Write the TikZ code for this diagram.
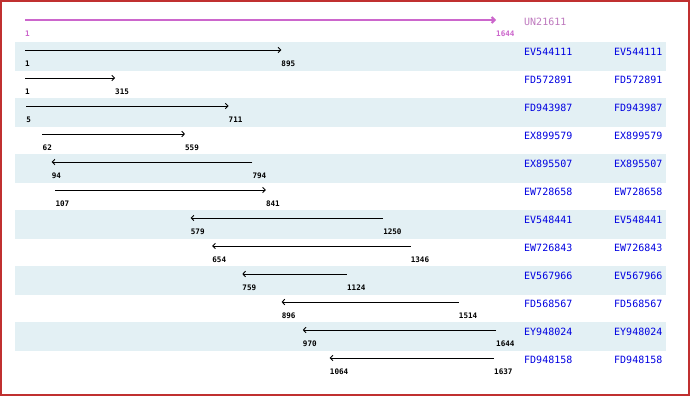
\documentclass[tikz,border=0pt]{standalone}
\usepackage{fontspec}
\newfontfamily\mono{DejaVu Sans Mono}
\usetikzlibrary{arrows.meta}
\definecolor{frame}{RGB}{192,48,48}
\definecolor{rowbg}{RGB}{227,240,244}
\definecolor{acc}{RGB}{0,0,225}
\definecolor{mag}{RGB}{204,102,204}
\definecolor{magt}{RGB}{190,120,190}
\tikzset{
  nametext/.style={anchor=west,inner sep=0pt,font=\mono\fontsize{10}{10}\selectfont,text=acc},
  numtext/.style={anchor=west,inner sep=0pt,font=\mono\fontsize{7.6}{8}\selectfont\bfseries},
  hit/.style={line width=0.9pt,-{Straight Barb[length=2.6pt,width=5.5pt]}},
  headhit/.style={line width=2pt,mag,-{Straight Barb[length=3pt,width=6pt]}},
}
\begin{document}
\begin{tikzpicture}[x=1pt,y=-1pt]
\useasboundingbox (0,0) rectangle (690,396);
\fill[white] (0,0) rectangle (690,396);
% shaded rows
\foreach \i in {1,3,5,7,9,11}{
  \pgfmathsetmacro\t{42+(\i-1)*28}
  \fill[rowbg] (15,\t) rectangle (666,\t+29);
}
% header
\coordinate (hs) at (25,20);
\coordinate (he) at (496,20);
\draw[headhit] (hs) -- (he);
\node[numtext,text=mag] (h1) at (25,34) {1};
\node[numtext,text=mag] (h2) at (496,34) {1644};
\node[nametext,text=magt] (hn) at (524,22) {UN21611};
% rows
\foreach \i/\n/\a/\b/\r in {1/EV544111/1/895/0, 2/FD572891/1/315/0, 3/FD943987/5/711/0, 4/EX899579/62/559/0, 5/EX895507/94/794/1, 6/EW728658/107/841/0, 7/EV548441/579/1250/1, 8/EW726843/654/1346/1, 9/EV567966/759/1124/1, 10/FD568567/896/1514/1, 11/EY948024/970/1644/1, 12/FD948158/1064/1637/1}{
  \pgfmathsetmacro\t{42+(\i-1)*28}
  \pgfmathsetmacro\xa{25+(\a-1)/1643*471}
  \pgfmathsetmacro\xb{25+(\b-1)/1643*471}
  \coordinate (s\i) at (\xa,\t+8);
  \coordinate (e\i) at (\xb,\t+8);
  \node[numtext] (la\i) at (\xa,\t+22) {\a};
  \node[numtext] (lb\i) at (\xb,\t+22) {\b};
  \node[nametext] (n\i) at (524,\t+10) {\n};
  \node[nametext] (m\i) at (614,\t+10) {\n};
  \ifnum\r=0
    \draw[hit] (s\i) -- (e\i);
  \else
    \draw[hit] (e\i) -- (s\i);
  \fi
}
% frame
\draw[frame,line width=1.6pt] (0.8,0.8) rectangle (689.2,395.2);
\end{tikzpicture}
\end{document}
